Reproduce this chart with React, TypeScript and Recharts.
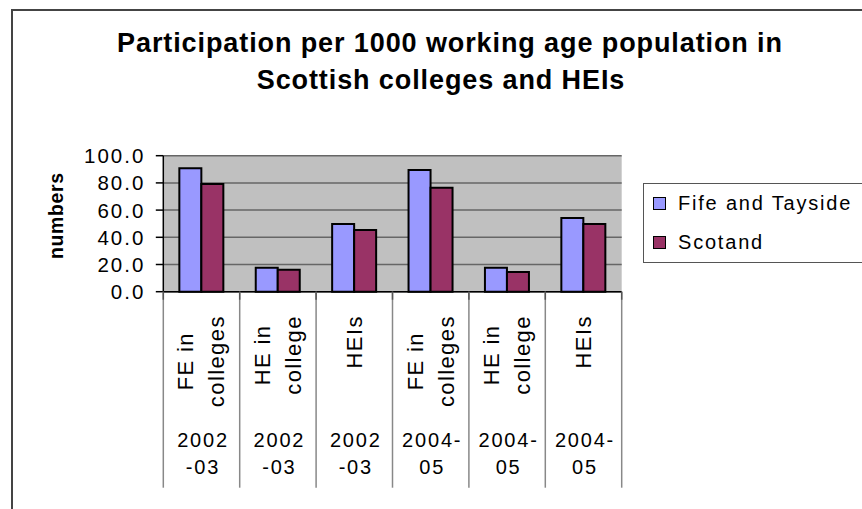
import React from "react";
import { BarChart, Bar, XAxis, YAxis, CartesianGrid, Legend } from "recharts";

// values
const categories = ["FE in\ncolleges", "HE in\ncollege", "HEIs", "FE in\ncolleges", "HE in\ncollege", "HEIs"];
const years = ["2002\n-03", "2002\n-03", "2002\n-03", "2004-\n05", "2004-\n05", "2004-\n05"];
const fifeTayside = [90.7, 17.6, 49.8, 89.5, 17.6, 54.2];
const scotland = [79.2, 16.2, 45.4, 76.5, 14.5, 49.8];
const yTicks = [0, 20, 40, 60, 80, 100];

const data = categories.map((c, i) => ({
  idx: i,
  label: c,
  year: years[i],
  fife: fifeTayside[i],
  scot: scotland[i],
}));

const FONT = "'Liberation Sans', Arial, sans-serif";
const FS = 20; // horizontal labels
const LS = 1.8;
const RFS = 22; // rotated category labels
const RLS = 1.4;
const W = 862;
const H = 509;
const M = { top: 155.7, right: 240.3, bottom: 0, left: 0 };
const Y_W = 163.3;
const PLOT_W = W - M.left - M.right - Y_W;
const BAND = PLOT_W / categories.length;

let ctx: CanvasRenderingContext2D | null = null;
function textLen(s: string, size: number, spacing: number) {
  if (!ctx) ctx = document.createElement("canvas").getContext("2d");
  if (!ctx) return s.length * size * 0.55;
  ctx.font = `${size}px ${FONT}`;
  return ctx.measureText(s).width + spacing * s.length;
}

const YTick = ({ x, y, payload }: any) => (
  <text x={x} y={y} textAnchor="end" dominantBaseline="central" fontSize={20.5}
    letterSpacing={2} fontFamily={FONT} fill="#000">
    {Number(payload.value).toFixed(1)}
  </text>
);

const XTick = ({ x, y, payload, index }: any) => {
  const row = data[payload.value] ?? data[index];
  const lines = row.label.split("\n");
  const maxLen = Math.max(...lines.map((l: string) => textLen(l, RFS, RLS)));
  const cy = y + 23.5 + maxLen / 2;
  const yearLines = row.year.split("\n");
  const left = x - BAND / 2;
  const right = x + BAND / 2;
  return (
    <g>
      <line x1={left} x2={left} y1={y} y2={y + 196} stroke="#888" strokeWidth={1.5} />
      <line x1={left} x2={left} y1={y} y2={y + 8} stroke="#555" strokeWidth={1.5} />
      {index === categories.length - 1 && (
        <>
          <line x1={right} x2={right} y1={y} y2={y + 196} stroke="#888" strokeWidth={1.5} />
          <line x1={right} x2={right} y1={y} y2={y + 8} stroke="#555" strokeWidth={1.5} />
        </>
      )}
      {lines.map((l: string, i: number) => {
        const lx = x + (i - (lines.length - 1) / 2) * 31;
        return (
          <text key={i} x={lx} y={cy} transform={`rotate(-90, ${lx}, ${cy})`} textAnchor="middle"
            dominantBaseline="central" fontSize={RFS} letterSpacing={RLS} fontFamily={FONT} fill="#000">
            {l}
          </text>
        );
      })}
      {yearLines.map((l: string, i: number) => (
        <text key={"y" + i} x={x + 1.5} y={y + 148.5 + i * 27} textAnchor="middle" dominantBaseline="central"
          fontSize={FS} letterSpacing={LS} fontFamily={FONT} fill="#000">
          {l}
        </text>
      ))}
    </g>
  );
};

const LegendBox = ({ payload }: any) => (
  <div style={{
    border: "1px solid #555", height: 80, width: 240, boxSizing: "border-box", background: "#fff",
    fontFamily: FONT, fontSize: FS, letterSpacing: LS, color: "#000",
  }}>
    {(payload || []).map((p: any) => (
      <div key={p.value} style={{ display: "flex", alignItems: "center", height: 39 }}>
        <span style={{
          display: "inline-block", width: 11, height: 11, marginLeft: 9, marginRight: 12,
          background: p.color, border: "1px solid #000",
        }} />
        <span>{p.value}</span>
      </div>
    ))}
  </div>
);

export default function App() {
  return (
    <div style={{ position: "fixed", left: 0, top: 0, width: W, height: H, overflow: "hidden", background: "#fff" }}>
      <div style={{
        position: "absolute", left: 11, top: 9, width: 900, height: 600,
        borderLeft: "2px solid #444", borderTop: "2px solid #444",
      }} />
      <svg width={W} height={110} style={{ position: "absolute", left: 0, top: 0 }}>
        <text x={450} y={52} textAnchor="middle" fontSize={27} fontWeight="bold" letterSpacing={0.9}
          fontFamily={FONT} fill="#000">
          Participation per 1000 working age population in
        </text>
        <text x={441} y={89} textAnchor="middle" fontSize={27} fontWeight="bold" letterSpacing={0.9}
          fontFamily={FONT} fill="#000">
          Scottish colleges and HEIs
        </text>
      </svg>
      <div style={{ position: "absolute", left: 0, top: 0 }}>
        <BarChart width={W} height={H} data={data} margin={M} barCategoryGap="21%" barGap={0}>
          <CartesianGrid vertical={false} stroke="#666" strokeWidth={1.5} fill="#C0C0C0" />
          <XAxis dataKey="idx" type="category" height={H - M.top - 136} interval={0}
            axisLine={{ stroke: "#000", strokeWidth: 1.5 }} tickLine={false} tickSize={0} tickMargin={0}
            tick={<XTick />} />
          <YAxis width={Y_W} domain={[0, 100]} ticks={yTicks} interval={0}
            axisLine={{ stroke: "#000", strokeWidth: 1.5 }} tickLine={{ stroke: "#000", strokeWidth: 1.5 }}
            tickSize={7.5} tickMargin={10.5} tick={<YTick />}
            label={{
              content: ({ viewBox }: any) => {
                const cx = 56;
                const cy = viewBox.y + viewBox.height / 2 - 8;
                return (
                  <text x={cx} y={cy} transform={`rotate(-90, ${cx}, ${cy})`} textAnchor="middle"
                    dominantBaseline="central" fontSize={19.5} fontWeight="bold" letterSpacing={0.6}
                    fontFamily={FONT} fill="#000">
                    numbers
                  </text>
                );
              },
            }} />
          <YAxis yAxisId="r" orientation="right" width={0} domain={[0, 100]} tick={false} tickLine={false}
            axisLine={{ stroke: "#808080", strokeWidth: 2 }} />
          <Legend layout="vertical" align="center" verticalAlign="middle" content={<LegendBox />}
            wrapperStyle={{ position: "absolute", left: 643, top: 183, width: 240, height: 80 }} />
          <Bar dataKey="fife" name="Fife and Tayside" fill="#9999FF" stroke="#000" strokeWidth={2}
            isAnimationActive={false} />
          <Bar dataKey="scot" name="Scotand" fill="#993366" stroke="#000" strokeWidth={2}
            isAnimationActive={false} />
        </BarChart>
      </div>
    </div>
  );
}
